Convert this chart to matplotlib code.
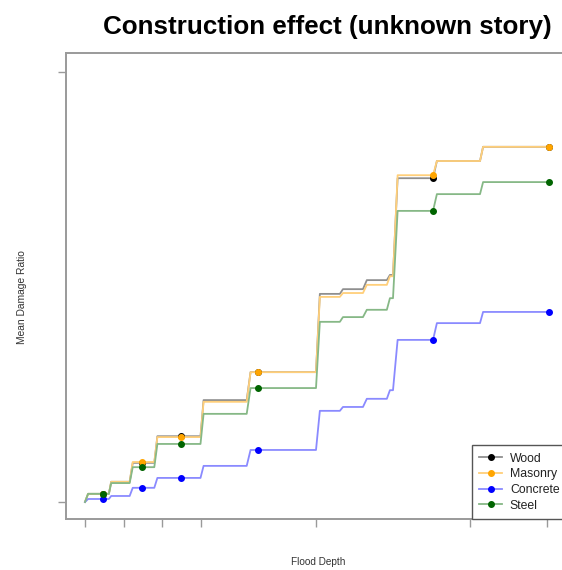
import matplotlib
matplotlib.use("Agg")
import matplotlib.pyplot as plt
from matplotlib.lines import Line2D

# ---------------- data ----------------
title = "Construction effect (unknown story)"
xlabel = "Flood Depth"
ylabel = "Mean Damage Ratio"

series_names = ["Wood", "Masonry", "Concrete", "Steel"]
series_colors = ["black", "orange", "blue", "darkgreen"]
series_line_colors = ["#8f8f8f", "#ffcf7a", "#8a8aff", "#86b886"]

# start / end flood depth of each flat level of the curves
level_start = [0.04, 0.34, 0.62, 0.94, 1.54, 2.15, 3.05, 3.35, 3.66, 3.96, 4.06, 4.57, 5.17]
level_end   = [0.31, 0.58, 0.90, 1.50, 2.10, 3.00, 3.31, 3.61, 3.92, 4.00, 4.52, 5.13, 6.03]

wood     = [0.019, 0.047, 0.091, 0.153, 0.237, 0.302, 0.484, 0.495, 0.516, 0.528, 0.753, 0.793, 0.826]
masonry  = [0.019, 0.047, 0.093, 0.151, 0.233, 0.302, 0.477, 0.486, 0.505, 0.525, 0.760, 0.793, 0.826]
concrete = [0.007, 0.014, 0.033, 0.056, 0.084, 0.121, 0.212, 0.221, 0.240, 0.260, 0.377, 0.416, 0.442]
steel    = [0.019, 0.044, 0.081, 0.135, 0.205, 0.265, 0.419, 0.430, 0.447, 0.474, 0.677, 0.716, 0.744]
series_values = [wood, masonry, concrete, steel]

start_depth = 0.0
start_value = 0.0

# depths where point markers are drawn, and which level they sit on
marker_depth = [0.24, 0.74, 1.25, 2.25, 4.52, 6.03]
marker_level = [0, 2, 3, 5, 10, 12]

x_ticks = [0, 0.5, 1, 1.5, 3, 5, 6]
y_ticks = [0, 1]

# ---------------- figure ----------------
W, H = 562, 570
fig = plt.figure(figsize=(W / 100, H / 100), dpi=100)
ax = fig.add_axes([66 / W, (H - 519) / H, (580 - 66) / W, (519 - 53) / H])
ax.set_xlim(-19 / 77, (580 - 85) / 77)
ax.set_ylim(-17 / 430, 449 / 430)

handles = []
for name, col, lcol, vals in zip(series_names, series_colors, series_line_colors, series_values):
    xs = [start_depth]
    ys = [start_value]
    for s, e, v in zip(level_start, level_end, vals):
        xs += [s, e]
        ys += [v, v]
    ax.plot(xs, ys, color=lcol, lw=1.3, solid_joinstyle="round", zorder=2)
    my = [vals[i] for i in marker_level]
    ax.plot(marker_depth, my, ls="none", marker="o", ms=4.0, mfc=col, mec=col, zorder=3)
    handles.append(Line2D([0], [0], color=lcol, lw=1.3, marker="o", ms=4.0,
                          mfc=col, mec=col))

spine_col = "#9a9a9a"
for sp in ax.spines.values():
    sp.set_color(spine_col)
    sp.set_linewidth(1.4)
ax.set_xticks(x_ticks)
ax.set_yticks(y_ticks)
ax.tick_params(direction="out", length=6, width=1.0, color=spine_col,
               labelbottom=False, labelleft=False)

fig.text(327 / W, 1 - 27 / H, title, ha="center", va="center",
         fontsize=18.7, fontweight="bold", family="Liberation Sans", color="black")
fig.text(318 / W, 1 - 562 / H, xlabel, ha="center", va="center",
         fontsize=7.2, family="Liberation Sans", color="#333333")
fig.text(22 / W, 1 - 297 / H, ylabel, ha="center", va="center", rotation=90,
         fontsize=7.4, family="Liberation Sans", color="#333333")

leg = ax.legend(handles, series_names, loc="lower left",
                bbox_to_anchor=(472 / W, 1 - 519 / H), bbox_transform=fig.transFigure,
                borderaxespad=0, prop={"family": "Liberation Sans", "size": 8.8},
                handlelength=1.85, handletextpad=0.65, labelspacing=0.3,
                borderpad=0.6, frameon=True, fancybox=False, framealpha=1)
leg.get_frame().set_edgecolor("#555555")
leg.get_frame().set_linewidth(1.0)
for t in leg.get_texts():
    t.set_color("#222222")

fig.savefig("out.png", dpi=100)
